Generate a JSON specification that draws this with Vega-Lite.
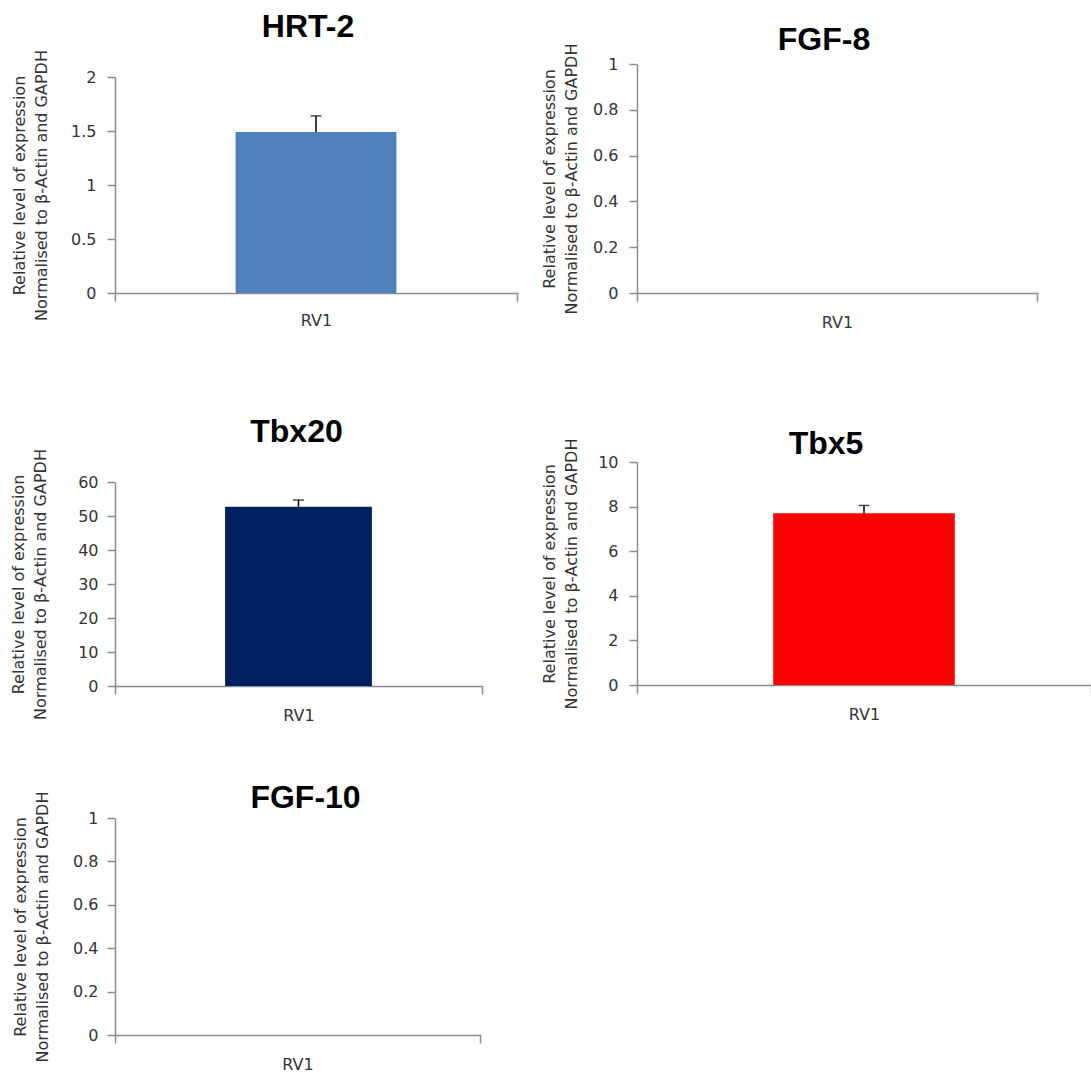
{
  "$schema": "https://vega.github.io/schema/vega-lite/v6.json",
  "background": "white",
  "padding": {"left": 9, "top": 10, "right": 0, "bottom": 0},
  "datasets": {
    "expr": [
      {"gene": "HRT-2", "sample": "RV1", "value": 1.49, "upper": 1.64},
      {"gene": "FGF-8", "sample": "RV1", "value": 0, "upper": null},
      {"gene": "Tbx20", "sample": "RV1", "value": 52.7, "upper": 54.7},
      {"gene": "Tbx5", "sample": "RV1", "value": 7.7, "upper": 8.05},
      {"gene": "FGF-10", "sample": "RV1", "value": 0, "upper": null}
    ]
  },
  "data": {"name": "expr"},
  "hconcat": [
    {
      "vconcat": [
        {
          "vconcat": [
            {
              "width": 402, "height": 229,
              "title": {"text": "HRT-2", "dx": -8, "offset": 6},
              "transform": [{"filter": "datum.gene === 'HRT-2'"}],
              "encoding": {"x": {"field": "sample", "type": "nominal", "scale": {"paddingInner": 0, "paddingOuter": 0}, "axis": {"title": null, "labelPadding": 11}}},
              "layer": [
                {"mark": {"type": "bar", "width": {"band": 0.4}, "color": "#4F81BD"},
                 "encoding": {"y": {"field": "value", "type": "quantitative", "scale": {"domain": [0, 2], "range": [229, 13]},
                   "axis": {"title": ["Relative level of expression", "Normalised to β-Actin and GAPDH"], "values": [0, 0.5, 1, 1.5, 2], "tickCount": 10, "format": "~r", "titleX": -88, "labelPadding": 11}}}},
                {"mark": {"type": "rule", "color": "#000", "strokeWidth": 1.5},
                 "encoding": {"y": {"field": "value", "type": "quantitative"}, "y2": {"field": "upper"}}},
                {"mark": {"type": "tick", "color": "#000", "thickness": 1.5, "size": 11},
                 "encoding": {"y": {"field": "upper", "type": "quantitative"}}}
              ]
            },
            {
              "width": 367, "height": 204,
              "title": {"text": "Tbx20", "dx": -2, "offset": 0},
              "transform": [{"filter": "datum.gene === 'Tbx20'"}],
              "encoding": {"x": {"field": "sample", "type": "nominal", "scale": {"paddingInner": 0, "paddingOuter": 0}, "axis": {"title": null}}},
              "layer": [
                {"mark": {"type": "bar", "width": {"band": 0.4}, "color": "#002060"},
                 "encoding": {"y": {"field": "value", "type": "quantitative", "scale": {"domain": [0, 60]},
                   "axis": {"title": ["Relative level of expression", "Normalised to β-Actin and GAPDH"], "values": [0, 10, 20, 30, 40, 50, 60], "tickCount": 10, "format": "~r", "titleX": -89, "labelPadding": 9}}}},
                {"mark": {"type": "rule", "color": "#000", "strokeWidth": 1.5},
                 "encoding": {"y": {"field": "value", "type": "quantitative"}, "y2": {"field": "upper"}}},
                {"mark": {"type": "tick", "color": "#000", "thickness": 1.5, "size": 11},
                 "encoding": {"y": {"field": "upper", "type": "quantitative"}}}
              ]
            }
          ],
          "spacing": 87
        },
        {
          "width": 365, "height": 217,
          "title": {"text": "FGF-10", "dx": 8, "offset": -24},
          "transform": [{"filter": "datum.gene === 'FGF-10'"}],
          "encoding": {"x": {"field": "sample", "type": "nominal", "scale": {"paddingInner": 0, "paddingOuter": 0}, "axis": {"title": null}}},
          "layer": [
            {"mark": {"type": "bar", "width": {"band": 0.4}, "color": "#4F81BD"},
             "encoding": {"y": {"field": "value", "type": "quantitative", "scale": {"domain": [0, 1]},
               "axis": {"title": ["Relative level of expression", "Normalised to β-Actin and GAPDH"], "values": [0, 0.2, 0.4, 0.6, 0.8, 1], "tickCount": 10, "format": "~r", "titleX": -87, "labelPadding": 9}}}}
          ]
        }
      ],
      "spacing": 59
    },
    {
      "vconcat": [
        {
          "width": 400, "height": 229,
          "title": {"text": "FGF-8", "dx": -13, "offset": -14},
          "transform": [{"filter": "datum.gene === 'FGF-8'"}],
          "encoding": {"x": {"field": "sample", "type": "nominal", "scale": {"paddingInner": 0, "paddingOuter": 0}, "axis": {"title": null}}},
          "layer": [
            {"mark": {"type": "bar", "width": {"band": 0.4}, "color": "#4F81BD"},
             "encoding": {"y": {"field": "value", "type": "quantitative", "scale": {"domain": [0, 1]},
               "axis": {"title": ["Relative level of expression", "Normalised to β-Actin and GAPDH"], "values": [0, 0.2, 0.4, 0.6, 0.8, 1], "tickCount": 10, "format": "~r", "titleX": -80, "labelPadding": 11}}}}
          ]
        },
        {
          "width": 454, "height": 223,
          "title": {"text": "Tbx5", "dx": -38, "offset": -23},
          "transform": [{"filter": "datum.gene === 'Tbx5'"}],
          "encoding": {"x": {"field": "sample", "type": "nominal", "scale": {"paddingInner": 0, "paddingOuter": 0}, "axis": {"title": null}}},
          "layer": [
            {"mark": {"type": "bar", "width": {"band": 0.4}, "color": "#FF0000"},
             "encoding": {"y": {"field": "value", "type": "quantitative", "scale": {"domain": [0, 10]},
               "axis": {"title": ["Relative level of expression", "Normalised to β-Actin and GAPDH"], "values": [0, 2, 4, 6, 8, 10], "tickCount": 10, "format": "~r", "titleX": -80, "labelPadding": 11}}}},
            {"mark": {"type": "rule", "color": "#000", "strokeWidth": 1.5},
             "encoding": {"y": {"field": "value", "type": "quantitative"}, "y2": {"field": "upper"}}},
            {"mark": {"type": "tick", "color": "#000", "thickness": 1.5, "size": 11},
             "encoding": {"y": {"field": "upper", "type": "quantitative"}}}
          ]
        }
      ],
      "spacing": 98
    }
  ],
  "spacing": 22,
  "config": {
    "view": {"stroke": null},
    "axis": {
      "grid": false,
      "domainColor": "#8c8c8c", "domainWidth": 1.5,
      "tickColor": "#8c8c8c", "tickWidth": 1.5, "tickSize": 8,
      "labelFont": "DejaVu Sans", "labelFontSize": 16, "labelColor": "#333333", "labelPadding": 10,
      "labelOverlap": false,
      "titleFont": "DejaVu Sans", "titleFontSize": 16, "titleFontWeight": "normal", "titleColor": "#333333", "titleLineHeight": 22
    },
    "axisX": {"tickBand": "extent", "labelAngle": 0, "domainCap": "square", "labelPadding": 13},
    "title": {"font": "Liberation Sans", "fontSize": 32, "fontWeight": "bold", "color": "#000000", "anchor": "middle", "frame": "group", "baseline": "alphabetic"}
  }
}
